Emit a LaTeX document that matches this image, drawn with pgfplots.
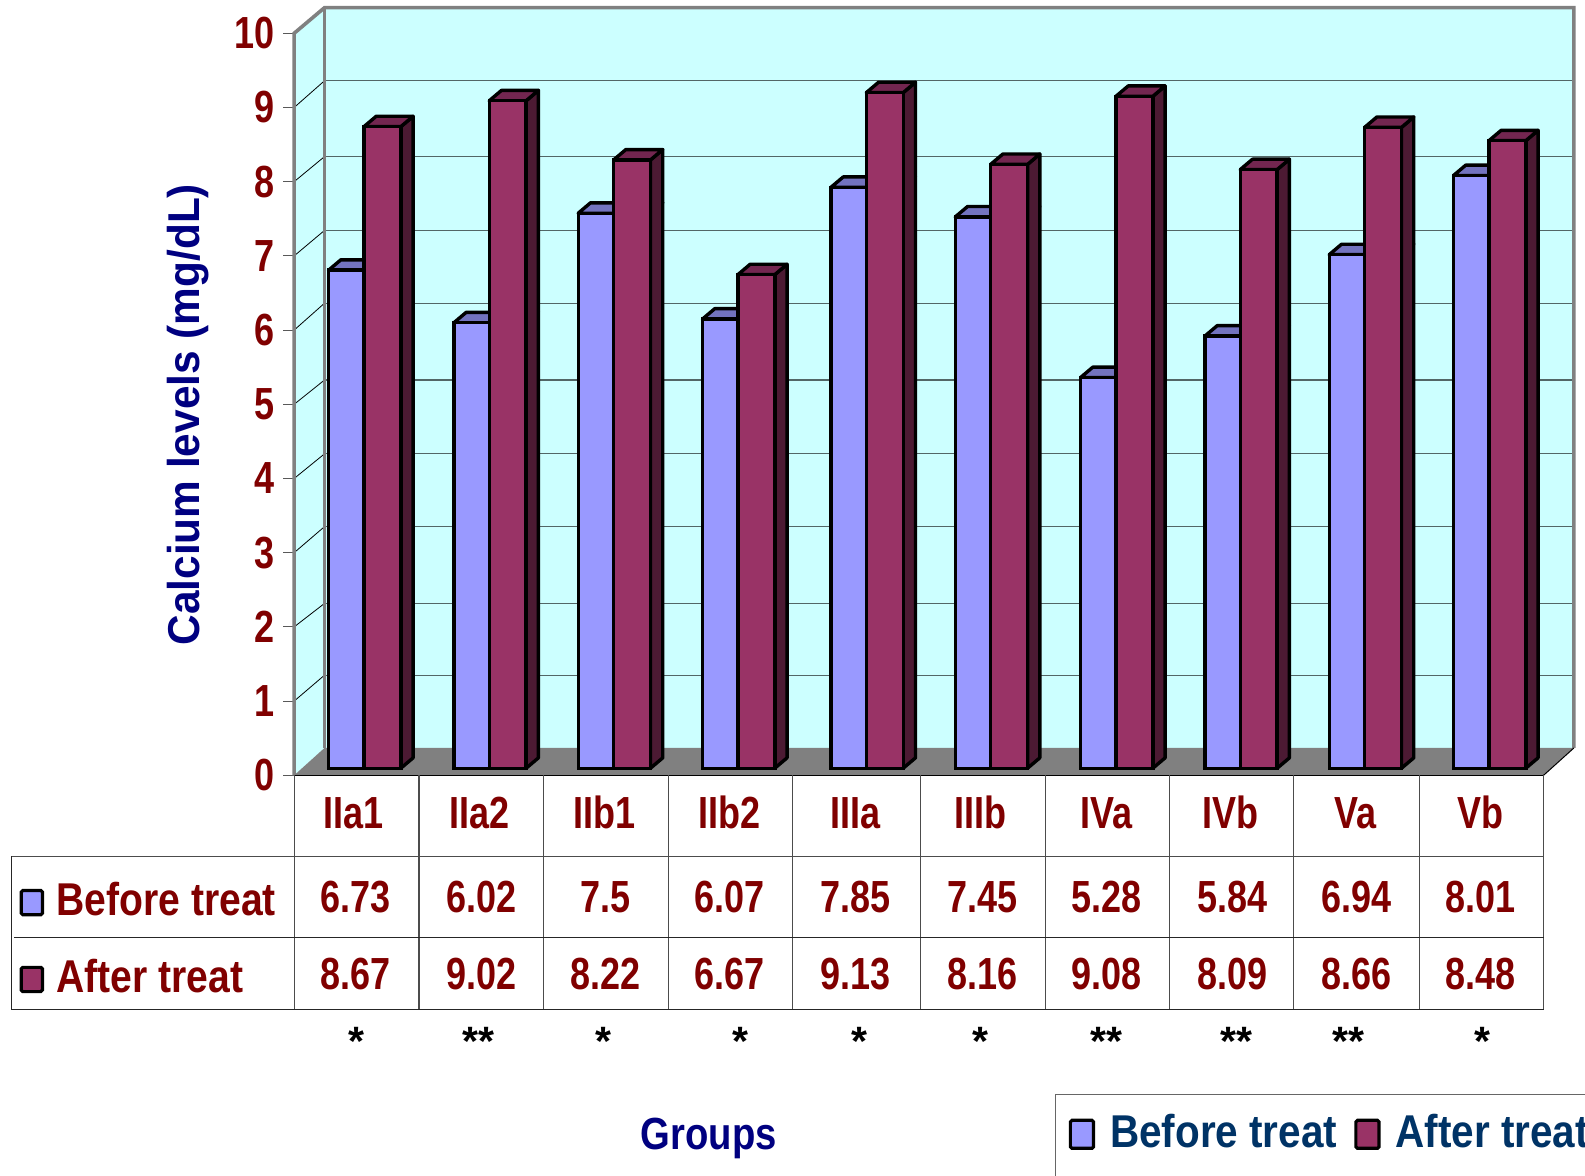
\documentclass[border=0pt]{standalone}
\usepackage{fontspec}
\usepackage{pgfplots}
\usepackage{pgfplotstable}
\pgfplotsset{compat=1.18}
\setmainfont{Liberation Sans}
\newfontfamily\condv{Liberation Sans}[FakeStretch=0.80]
\newfontfamily\condt{Liberation Sans}[FakeStretch=0.85]
\newfontfamily\condk{Liberation Sans}[FakeStretch=0.88]
\newfontfamily\condl{Liberation Sans}[FakeStretch=0.95]
\definecolor{beforec}{HTML}{9999FF}
\definecolor{beforetop}{HTML}{7373BF}
\definecolor{afterc}{HTML}{993366}
\definecolor{aftertop}{HTML}{732650}
\definecolor{afterside}{HTML}{4C1A33}
\definecolor{wallc}{HTML}{CCFFFF}
\definecolor{floorc}{HTML}{808080}
\definecolor{redtext}{HTML}{800000}
\definecolor{navytext}{HTML}{000080}
\definecolor{legendtext}{HTML}{003366}
% x is the seam between the two bars of a group, in category units
\pgfplotstableread{
x     before after
0.498 6.73   8.67
1.501 6.02   9.02
2.496 7.50   8.22
3.491 6.07   6.67
4.519 7.85   9.13
5.514 7.45   8.16
6.517 5.28   9.08
7.512 5.84   8.09
8.507 6.94   8.66
9.502 8.01   8.48
}\calcium
% bar half widths and depth of a bar in x and y, all in axis units
\def\hwa{0.2832}
\def\hwb{0.2953}
\def\dpx{0.098}
\def\dpy{0.140}
\pgfplotsset{
  swatch/.style={legend image code/.code={%
    \draw[##1,draw=black,line width=1.6pt,rounded corners=0.8pt]
      (0pt,-8pt) rectangle (11.6pt,6pt);
    \path (15.5pt,0pt);}},
}
\begin{document}
\begin{tikzpicture}
\useasboundingbox (0,0) rectangle (792.5pt,587.8pt);
\clip (0,0) rectangle (792.5pt,587.8pt);
% chart walls, floor and value axis
\begin{axis}[
  at={(147.08pt,200.15pt)},anchor=south west,
  scale only axis,width=624.7pt,height=371pt,
  xmin=0,xmax=10,ymin=0,ymax=10,clip=false,
  axis line style={draw=none},
  ytick={0,1,...,10},
  xtick={0.477,1.481,2.484,3.487,4.490,5.494,6.505,7.492,8.495,9.498},
  xticklabels={IIa1,IIa2,IIb1,IIb2,IIIa,IIIb,IVa,IVb,Va,Vb},
  x tick style={draw=none},
  y tick style={draw=black!65,line width=0.5pt},
  tick align=outside,tick pos=left,
  major tick length=5.5pt,
  /pgf/number format/assume math mode=true,
  tick label style={color=redtext,font=\condv\bfseries\fontsize{22.5}{24}\selectfont},
  yticklabel style={xshift=-0.8pt},
  xticklabel style={anchor=base,yshift=-21pt},
  xlabel={Groups},
  xlabel style={at={(axis description cs:0.332,-0.490)},anchor=center,color=navytext,
    font=\condt\bfseries\fontsize{22.5}{24}\selectfont},
  ylabel={Calcium levels (mg/dL)},
  ylabel style={at={(axis description cs:-0.085,0.486)},anchor=center,color=navytext,
    font=\condl\bfseries\fontsize{22.3}{24}\selectfont},
]
\addplot[fill=wallc,draw=none,forget plot] coordinates {(0.2427,0.368) (10.2427,0.368) (10.2427,10.345) (0.2427,10.345)} --cycle;
\addplot[fill=wallc,draw=none,forget plot] coordinates {(0,0) (0.2427,0.368) (0.2427,10.345) (0,10)} --cycle;
\addplot[fill=floorc,draw=none,forget plot] coordinates {(0,0) (0.2427,0.368) (10.2427,0.368) (10,0)} --cycle;
% gridlines on the back wall and their continuation on the side wall
\pgfplotsinvokeforeach{1.349,2.316,3.351,4.332,5.327,6.362,7.343,8.338,9.360}{
  \pgfmathsetmacro{\gk}{floor(#1)}
  \edef\temp{\noexpand\addplot[draw=black!60!wallc,line width=0.6pt,forget plot] coordinates {(0.2427,#1) (10.2427,#1)};
    \noexpand\addplot[draw=black,line width=0.4pt,forget plot] coordinates {(0,\gk) (0.2427,#1)};}
  \temp
}
\addplot[draw=floorc,line width=1.8pt,forget plot] coordinates {(0,0) (0,10) (0.2427,10.345) (10.2427,10.345) (10.2427,0.368)};
\addplot[draw=floorc,line width=1.8pt,forget plot] coordinates {(0.2427,0.368) (0.2427,10.345)};
\addplot[draw=black,line width=0.5pt,forget plot] coordinates {(10,0) (10.2427,0.368)};
\addplot[draw=black,line width=0.6pt,forget plot] coordinates {(0,0) (10,0)};
\end{axis}
% bars stand slightly behind the front edge of the floor
\begin{axis}[
  at={(150.87pt,203.69pt)},anchor=south west,
  scale only axis,width=624.7pt,height=370pt,
  xmin=0,xmax=10,ymin=0,ymax=10,clip=false,hide axis,
  legend style={at={(axis description cs:0.6136,-0.492)},anchor=west,draw=none,fill=none,
    legend columns=2,inner sep=0pt,text=legendtext,
    font=\condk\bfseries\fontsize{23}{25}\selectfont,
    /tikz/every even column/.append style={column sep=5pt},
    nodes={inner xsep=3.5pt}},
]
% top faces of the first series
\pgfplotsinvokeforeach{0,...,9}{
  \pgfplotstablegetelem{#1}{x}\of\calcium \let\cx\pgfplotsretval
  \pgfplotstablegetelem{#1}{before}\of\calcium \let\cv\pgfplotsretval
  \pgfmathsetmacro{\xa}{\cx-\hwa}
  \pgfmathsetmacro{\xb}{\cx+\hwb}
  \pgfmathsetmacro{\xc}{\cx+\hwb+\dpx}
  \pgfmathsetmacro{\xd}{\cx-\hwa+\dpx}
  \pgfmathsetmacro{\vt}{\cv+\dpy}
  \edef\temp{\noexpand\addplot[fill=beforetop,draw=black,line width=1.7pt,line join=round,forget plot]
    coordinates {(\xa,\cv) (\xb,\cv) (\xc,\vt) (\xd,\vt)} --cycle;}
  \temp
}
\addplot[ybar,bar width=17.69pt,bar shift=-8.85pt,fill=beforec,draw=black,line width=1.7pt,swatch]
  table[x=x,y=before]{\calcium};
\addlegendentry{Before treat}
% top and side faces of the second series
\pgfplotsinvokeforeach{0,...,9}{
  \pgfplotstablegetelem{#1}{x}\of\calcium \let\cx\pgfplotsretval
  \pgfplotstablegetelem{#1}{after}\of\calcium \let\cv\pgfplotsretval
  \pgfmathsetmacro{\xb}{\cx+\hwb}
  \pgfmathsetmacro{\xc}{\cx+\hwb+\dpx}
  \pgfmathsetmacro{\xd}{\cx+\dpx}
  \pgfmathsetmacro{\vt}{\cv+\dpy}
  \edef\temp{\noexpand\addplot[fill=afterside,draw=black,line width=1.7pt,line join=round,forget plot]
      coordinates {(\xb,0) (\xb,\cv) (\xc,\vt) (\xc,\dpy)} --cycle;
    \noexpand\addplot[fill=aftertop,draw=black,line width=1.7pt,line join=round,forget plot]
      coordinates {(\cx,\cv) (\xb,\cv) (\xc,\vt) (\xd,\vt)} --cycle;}
  \temp
}
\addplot[ybar,bar width=18.45pt,bar shift=9.22pt,fill=afterc,draw=black,line width=1.7pt,swatch]
  table[x=x,y=after]{\calcium};
\addlegendentry{After treat}
\end{axis}
% data table beneath the chart, laid out on a grid of small units
\begin{scope}[x=0.50542pt,y=-0.50542pt,yshift=587.8pt]
  \foreach \vx in {291,414.5,537.5,661,784,911,1034,1157,1280,1404,1527}
    \draw[black!70,line width=0.6pt] (\vx,767) -- (\vx,999);
  \draw[black!70,line width=0.6pt] (11,847) -- (1527,847);
  \draw[black!85,line width=0.5pt] (14,927) -- (1527,927);
  \draw[black!85,line width=0.6pt] (11,847) -- (11,999) -- (1527,999);
  \tikzset{cellv/.style={anchor=base,inner sep=0pt,text=redtext,
    font=\condv\bfseries\fontsize{22.5}{24}\selectfont}}
  \foreach \vx/\a/\b in {352/6.73/8.67,476/6.02/9.02,599/7.5/8.22,722/6.07/6.67,846/7.85/9.13,
      972/7.45/8.16,1095/5.28/9.08,1219/5.84/8.09,1342/6.94/8.66,1465/8.01/8.48}{
    \node[cellv] at (\vx,903) {\a};
    \node[cellv] at (\vx,979) {\b};
  }
  \foreach \vx/\s in {353/*,473/**,597/*,733/*,850/*,970/*,1095/**,1223/**,1334/**,1467/*}
    \node[anchor=base,inner sep=0pt,font=\bfseries\fontsize{20.5}{23}\selectfont] at (\vx,1044) {\s};
  \tikzset{rowh/.style={anchor=base west,inner sep=0pt,text=redtext,
    font=\condt\bfseries\fontsize{23}{25}\selectfont}}
  \node[rowh] at (55.5,906) {Before treat};
  \node[rowh] at (55.5,982) {After treat};
  \draw[fill=beforec,draw=black,line width=1.6pt,rounded corners=0.8pt] (21,881) rectangle (42,905);
  \draw[fill=afterc,draw=black,line width=1.6pt,rounded corners=0.8pt] (21,957) rectangle (42,981);
  % frame around the key
  \draw[draw=black!60,line width=0.7pt] (1044,1170) -- (1044,1083) -- (1570,1083);
\end{scope}
\end{tikzpicture}
\end{document}
